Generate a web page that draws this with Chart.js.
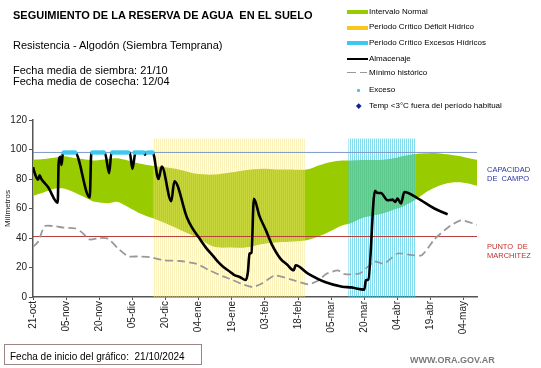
<!DOCTYPE html>
<html>
<head>
<meta charset="utf-8">
<script src="https://cdn.jsdelivr.net/npm/chart.js@4.4.1/dist/chart.umd.min.js"></script>
<style>
html,body{margin:0;padding:0;background:#fff;}
#wrap{position:relative;width:541px;height:368px;overflow:hidden;font-family:"Liberation Sans",Arial,sans-serif;}
#c{position:absolute;left:0;top:0;}
.t{position:absolute;white-space:pre;color:#000;}
.lg{position:absolute;left:369px;font-size:8px;line-height:10px;height:10px;white-space:pre;color:#000;}
.sw{position:absolute;}
</style>
</head>
<body>
<div id="wrap">
<canvas id="c" width="541" height="368"></canvas>

<div class="t" style="left:13px;top:9px;font-size:11px;line-height:12px;font-weight:bold;">SEGUIMIENTO DE LA RESERVA DE AGUA  EN EL SUELO</div>
<div class="t" style="left:13px;top:39px;font-size:11px;line-height:12px;">Resistencia - Algodón (Siembra Temprana)</div>
<div class="t" style="left:13px;top:65px;font-size:11px;line-height:10.5px;">Fecha media de siembra: 21/10
Fecha media de cosecha: 12/04</div>

<div class="sw" style="left:347px;top:10px;width:21px;height:4px;background:rgb(153,204,0);"></div>
<div class="lg" style="top:7px;">Intervalo Normal</div>
<div class="sw" style="left:347px;top:25.5px;width:21px;height:4px;background:#F8C81E;"></div>
<div class="lg" style="top:22px;">Periodo Crítico Déficit Hídrico</div>
<div class="sw" style="left:347px;top:41px;width:21px;height:4px;background:#3CC8F0;"></div>
<div class="lg" style="top:38px;">Periodo Crítico Excesos Hídricos</div>
<div class="sw" style="left:347px;top:58px;width:21px;height:2px;background:#000;"></div>
<div class="lg" style="top:54px;">Almacenaje</div>
<div class="sw" style="left:347px;top:71.5px;width:9px;height:1.5px;background:#999;"></div>
<div class="sw" style="left:360px;top:71.5px;width:7px;height:1.5px;background:#999;"></div>
<div class="lg" style="top:68px;">Mínimo histórico</div>
<div class="sw" style="left:357px;top:88.5px;width:3px;height:3px;background:#3CC8F0;border-radius:1px;"></div>
<div class="lg" style="top:85px;">Exceso</div>
<div class="sw" style="left:356.5px;top:103.5px;width:3.5px;height:3.5px;background:#1020A0;transform:rotate(45deg);"></div>
<div class="lg" style="top:101px;">Temp &lt;3°C fuera del período habitual</div>

<div class="t" style="left:487px;top:166px;font-size:7.5px;line-height:8.5px;color:#2A35A8;">CAPACIDAD
DE  CAMPO</div>
<div class="t" style="left:487px;top:242px;font-size:7.5px;line-height:9.3px;color:#C0302A;">PUNTO  DE
MARCHITEZ</div>

<div class="t" style="left:4px;top:344px;width:198px;height:21px;border:1px solid #9C8585;box-sizing:border-box;"></div>
<div class="t" style="left:10px;top:351px;font-size:10px;line-height:12px;">Fecha de inicio del gráfico:  21/10/2024</div>
<div class="t" style="left:410px;top:355px;font-size:9px;line-height:11px;font-weight:bold;color:#7a7a7a;">WWW.ORA.GOV.AR</div>
</div>

<script>
// ---- Data (day index counted from 21-oct-2024) ----
const tickDays = [0,15,30,45,60,75,90,105,120,135,150,165,180,195];
const tickLabels = ['21-oct','05-nov','20-nov','05-dic','20-dic','04-ene','19-ene','03-feb','18-feb','05-mar','20-mar','04-abr','19-abr','04-may'];
const axisEndDay = 201;

const capacidadCampo = 98;
const puntoMarchitez = 41;

const periodTop = 107.5;
const deficitPeriod = [54.2, 123.1];
const excesoPeriod = [142.7, 173.4];

const normalDays  = [0,5,10,14,20,25,28,34,38,43,48,54,60,66,74,82,90,96,104,110,116,124,130,135,140,144,150,158,163,167,171,175,179,183,189,195,201];
const normalUpper = [93,93.5,94.5,95.5,94,93,92.5,93.5,94,92.5,90.5,89,88,86.5,83.5,83,84.5,86,87,86.5,86.5,86.5,89.5,91.5,92.5,92.5,92.8,93,94,95.5,96.5,97.3,97.5,97.5,96.5,95,93];
const normalLower = [68.5,71,73.5,73.5,70,66.5,64.5,63.5,64.5,61,57,53.5,50,46,40.5,34,33.5,33.5,36,37,37.5,38.5,41.5,45,48.5,50,54,56.5,59,61,64,68,72,75,77.5,77.5,75.5];

const minimoDays   = [0,2.3,5.3,9.8,14,19,22,25.7,30,34,38.5,43,48,53,59,66.6,74,80,86,90,95,99.5,104,109.5,117,124.5,129,133,138,141,148,154.5,159,165,171,176,181.7,187.7,193.8,201];
const minimoValues = [34,37.5,48,48,47,46.5,44,39,40,39.5,33,27.6,27.5,27,25,24.4,22.5,18,14,11.8,8.5,6.8,9.5,14.5,11.8,8.6,11,15.9,18,15.5,16,24,22.6,29.5,28.5,28.3,39,47,52,49];

const almacenajeDays   = [0,1,2.3,3,3.8,6.8,11.2,11.6,12.4,12.9,13.6,19,25.7,26.4,32.5,34.5,35.5,43.8,45,46.4,50.2,50.7,51.2,54.2,56.8,58.3,62.6,64,69.6,72,75,78,81.7,84,86.2,89.3,91,93.8,96.3,97.3,98,98.9,100,102.5,105.5,108,112,115,118,118.9,124.5,132.5,140,144,150,150.7,151.8,154.8,156,157.5,160.5,162.8,164,165,166.6,168.1,174,181.7,187.7];
const almacenajeValues = [88,83,79.5,82.5,80,74.5,64,90.5,95,89.5,98,98,67.5,98,98,84,98,98,87,98,98,96.5,98,98,80,88.5,65,78.5,54.3,47,40.5,34,27.5,23.5,20.4,17,15,13.4,11.5,17,29.4,30,66.5,55,45,36,26,22,18.1,21.5,15.9,10,7,6.5,5,11.3,11.8,72,70.5,70.5,65.6,66,64.5,66.8,63.4,71.2,67,60,56];

const excesoDays   = [14,15,16,17,18,19,27,28,29,30,31,32,36,37,38,39,40,41,42,43,46,47,48,49,50,52,53,54];
const excesoValues = [98,98,98,98,98,98,98,98,98,98,98,98,98,98,98,98,98,98,98,98,98,98,98,98,98,98,98,98];

// ---- helpers ----
const pts = (xs, ys) => xs.map((x, i) => ({x, y: ys[i]}));
function stripes(c1, c2) {
  const p = document.createElement('canvas');
  p.width = 2; p.height = 1;
  const g = p.getContext('2d');
  g.fillStyle = c1; g.fillRect(0, 0, 1, 1);
  g.fillStyle = c2; g.fillRect(1, 0, 1, 1);
  return g.createPattern(p, 'repeat');
}
const ctx = document.getElementById('c').getContext('2d');
const yellowPat = stripes('rgba(248,228,120,0.5)', 'rgba(255,250,215,0.18)');
const cyanPat = stripes('rgba(58,198,228,0.62)', 'rgba(200,240,250,0.12)');

const noPts = {pointRadius: 0, pointHoverRadius: 0};

new Chart(ctx, {
  type: 'line',
  data: {
    datasets: [
      Object.assign({label: 'Intervalo Normal', data: pts(normalDays, normalUpper), borderWidth: 0, borderColor: 'rgba(0,0,0,0)', backgroundColor: 'rgb(153,204,0)', fill: '+1', tension: 0.3, order: 10}, noPts),
      Object.assign({label: 'Normal inferior', data: pts(normalDays, normalLower), borderWidth: 0, borderColor: 'rgba(0,0,0,0)', fill: false, tension: 0.3, order: 10}, noPts),
      Object.assign({label: 'Periodo Crítico Déficit Hídrico', data: pts(deficitPeriod, [periodTop, periodTop]), borderWidth: 0, borderColor: 'rgba(0,0,0,0)', backgroundColor: yellowPat, fill: 'origin', order: 9}, noPts),
      Object.assign({label: 'Periodo Crítico Excesos Hídricos', data: pts(excesoPeriod, [periodTop, periodTop]), borderWidth: 0, borderColor: 'rgba(0,0,0,0)', backgroundColor: cyanPat, fill: 'origin', order: 9}, noPts),
      Object.assign({label: 'Capacidad de campo', data: pts([0, axisEndDay], [capacidadCampo, capacidadCampo]), borderWidth: 1, borderColor: '#7E98C8', fill: false, order: 8}, noPts),
      Object.assign({label: 'Punto de marchitez', data: pts([0, axisEndDay], [puntoMarchitez, puntoMarchitez]), borderWidth: 1, borderColor: '#B5413C', fill: false, order: 8}, noPts),
      Object.assign({label: 'Mínimo histórico', data: pts(minimoDays, minimoValues), borderWidth: 1.8, borderColor: '#999', borderDash: [8, 4], fill: false, tension: 0.2, order: 3}, noPts),
      Object.assign({label: 'Almacenaje', data: pts(almacenajeDays, almacenajeValues), borderWidth: 2.6, borderColor: '#000', fill: false, cubicInterpolationMode: 'monotone', borderJoinStyle: 'round', order: 2}, noPts),
      {label: 'Exceso', data: pts(excesoDays, excesoValues), showLine: false, pointRadius: 2.3, pointHoverRadius: 2.3, pointBorderWidth: 0, pointBackgroundColor: '#3CC8F0', pointBorderColor: '#3CC8F0', order: 1}
    ]
  },
  options: {
    responsive: false,
    animation: false,
    devicePixelRatio: 1,
    layout: {padding: {left: 0, right: 64, top: 120, bottom: 0}},
    plugins: {legend: {display: false}, tooltip: {enabled: false}},
    scales: {
      x: {
        type: 'linear', min: 0, max: axisEndDay,
        afterFit(s) { s.height = 71; },
        ticks: {
          stepSize: 15, autoSkip: false, minRotation: 90, maxRotation: 90,
          font: {size: 10, family: 'Liberation Sans'}, color: '#222', padding: 1,
          callback(v) { const i = tickDays.indexOf(v); return i >= 0 ? tickLabels[i] : null; }
        },
        grid: {display: true, drawOnChartArea: false, drawTicks: true, tickLength: 3, color: '#555'},
        border: {display: true, color: '#555', width: 1.5}
      },
      y: {
        min: 0, max: 120,
        afterFit(s) { s.width = 33; },
        ticks: {stepSize: 20, font: {size: 10, family: 'Liberation Sans'}, color: '#222', padding: 2},
        grid: {display: true, drawOnChartArea: false, drawTicks: true, tickLength: 4, color: '#555'},
        border: {display: true, color: '#555', width: 1.5},
        title: {display: true, text: 'Milímetros', font: {size: 8, family: 'Liberation Sans'}, color: '#222', padding: {top: 2.5, bottom: 0}}
      }
    }
  }
});
</script>
</body>
</html>
